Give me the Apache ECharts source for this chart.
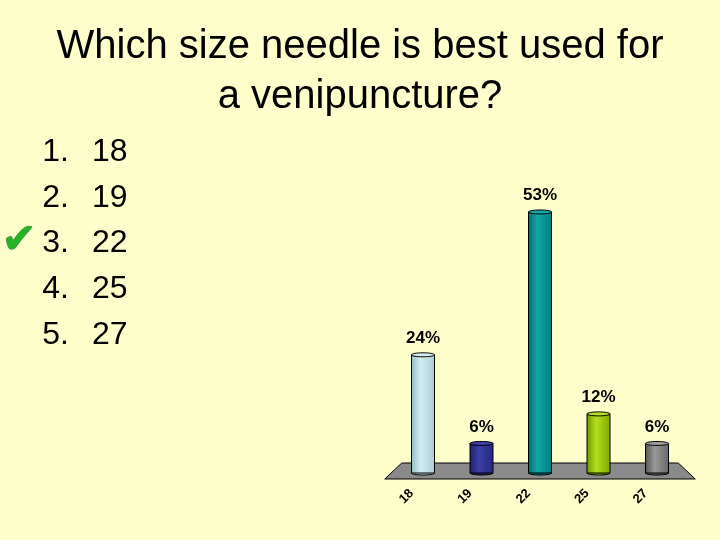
<!DOCTYPE html>
<html>
<head>
<meta charset="utf-8">
<script src="https://cdn.jsdelivr.net/npm/echarts@6/dist/echarts.min.js"></script>
<style>
  html, body { margin: 0; padding: 0; background: #ffffcc; }
  #chart { width: 720px; height: 540px; }
</style>
</head>
<body>
<div id="chart"></div>
<script>
// answers on the slide, and the share of votes for each one
const categories = ['18', '19', '22', '25', '27'];
const percents = [24, 6, 53, 12, 6];
const correctIndex = 2;
const barColors = [
    ['#8fbcc2', '#d4eef0', '#a9cdd2'],
    ['#1e1f6e', '#3d3fa8', '#26287e'],
    ['#006e6e', '#13a8a8', '#007c7c'],
    ['#6e9400', '#b4e01e', '#7ea800'],
    ['#555555', '#9a9a9a', '#666666'],
];

const chartDom = document.getElementById('chart');
const chart = echarts.init(chartDom);
const FONT = '"Liberation Sans", Arial, sans-serif';

// numbered answer list on the left side
const listItems = [];
categories.forEach((c, i) => {
    const y = 153 + i * 45.8;
    listItems.push({
        type: 'text', right: 720 - 69, top: y - 17,
        style: { text: (i + 1) + '.', font: '32px ' + FONT, fill: '#000', align: 'right' }
    });
    listItems.push({
        type: 'text', left: 92, top: y - 17,
        style: { text: c, font: '32px ' + FONT, fill: '#000' }
    });
});
listItems.push({
    type: 'text', left: 1, top: 153 + correctIndex * 45.8 - 24,
    style: {
        text: '\u2714', font: '42px "DejaVu Sans", sans-serif', fill: '#22b422',
        stroke: '#6f7f6f', lineWidth: 1,
        shadowColor: 'rgba(80,80,80,0.6)', shadowOffsetX: 1, shadowOffsetY: -1, shadowBlur: 1
    }
});

function renderFloor(params, api) {
    const cs = params.coordSys;
    const baseY = api.coord([0, 0])[1];
    return {
        type: 'polygon',
        shape: {
            points: [
                [cs.x + 8, baseY - 10],
                [cs.x + cs.width - 8, baseY - 10],
                [cs.x + cs.width + 9, baseY + 6],
                [cs.x - 9, baseY + 6],
            ]
        },
        style: { fill: '#8a8a8a', stroke: '#000', lineWidth: 1 },
        z2: 0
    };
}

function renderCylinder(params, api) {
    const idx = api.value(0);
    const top = api.coord([idx, api.value(1)]);
    const bottom = api.coord([idx, 0]);
    const w = 23;
    const x = top[0] - w / 2;
    const ry = 2;
    const cols = barColors[idx];
    const grad = new echarts.graphic.LinearGradient(0, 0, 1, 0, [
        { offset: 0, color: cols[0] },
        { offset: 0.4, color: cols[1] },
        { offset: 1, color: cols[2] },
    ]);
    return {
        type: 'group',
        children: [
            {
                type: 'ellipse',
                shape: { cx: top[0], cy: bottom[1], rx: w / 2, ry: ry },
                style: { fill: cols[2], stroke: '#000', lineWidth: 1 }
            },
            {
                type: 'rect',
                shape: { x: x, y: top[1], width: w, height: bottom[1] - top[1] },
                style: { fill: grad, stroke: '#000', lineWidth: 1 }
            },
            {
                type: 'ellipse',
                shape: { cx: top[0], cy: top[1], rx: w / 2, ry: ry },
                style: { fill: cols[1], stroke: '#000', lineWidth: 1 }
            },
            {
                type: 'text',
                x: top[0], y: top[1] - 8,
                style: {
                    text: api.value(1) + '%', font: 'bold 17px ' + FONT, fill: '#000',
                    align: 'center', verticalAlign: 'bottom'
                }
            }
        ]
    };
}

const option = {
    backgroundColor: '#ffffcc',
    animation: false,
    title: {
        text: 'Which size needle is best used for\na venipuncture?',
        left: 'center',
        top: 17,
        textStyle: { fontFamily: FONT, fontSize: 40, fontWeight: 'normal', color: '#000', lineHeight: 50 }
    },
    graphic: listItems,
    grid: { left: 393.75, right: 33.75, top: 177.5, bottom: 67 },
    xAxis: {
        type: 'category',
        data: categories,
        axisLine: { show: false },
        axisTick: { show: false },
        axisLabel: {
            rotate: 45, margin: 7, padding: [0, 16, 0, 0], interval: 0,
            fontFamily: FONT, fontSize: 13, fontWeight: 'bold', color: '#000'
        }
    },
    yAxis: { type: 'value', min: 0, max: 60, show: false, splitLine: { show: false } },
    series: [
        {
            type: 'custom',
            renderItem: renderFloor,
            data: [[0, 0]],
            silent: true,
            z: 1
        },
        {
            type: 'custom',
            renderItem: renderCylinder,
            data: percents.map((v, i) => [i, v]),
            encode: { x: 0, y: 1 },
            z: 2
        }
    ]
};

chart.setOption(option);
</script>
</body>
</html>
